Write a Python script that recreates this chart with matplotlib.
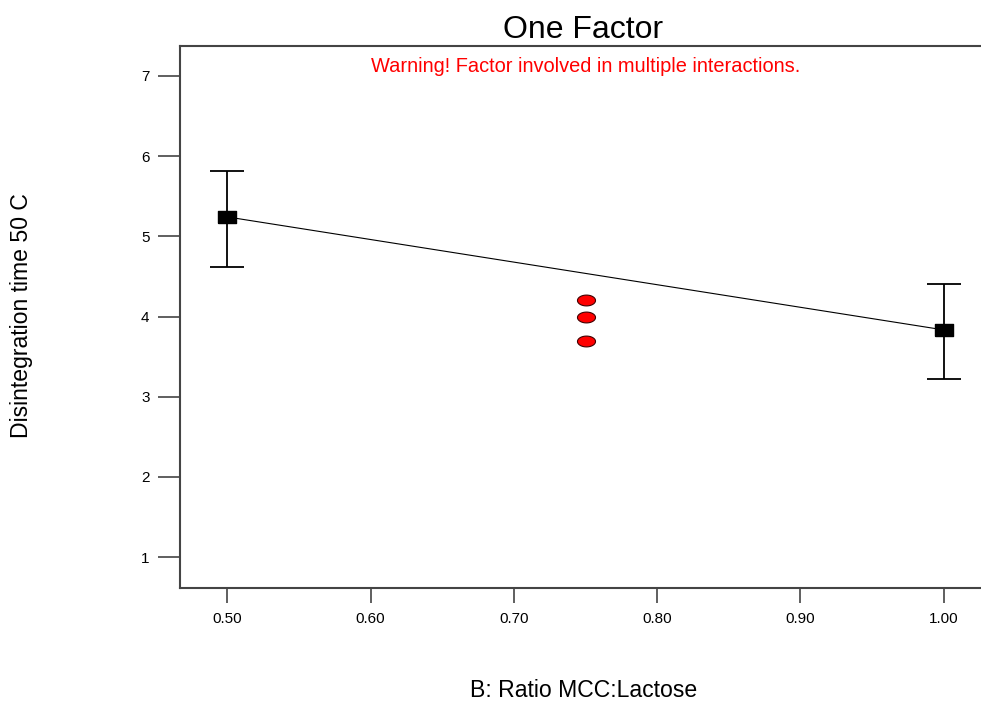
"""One factor effect plot: disintegration time vs MCC:Lactose ratio."""
import numpy as np
import matplotlib
matplotlib.use("Agg")
import matplotlib.pyplot as plt

plt.rcParams['font.family'] = ['Liberation Sans', 'DejaVu Sans']

# factor levels and predicted means with LSD bars
levels = [0.50, 1.00]
predicted = [5.242, 3.833]
bar_upper = [5.815, 4.407]
bar_lower = [4.620, 3.222]

# center point design runs
center_x = [0.75, 0.75, 0.75]
center_y = [4.207, 3.995, 3.700]

x_ticks = [0.50, 0.60, 0.70, 0.80, 0.90, 1.00]
y_ticks = [1, 2, 3, 4, 5, 6, 7]

# wide rectangle and flat ellipse marker shapes
rect_marker = [(-1.5, -1.0), (1.5, -1.0), (1.5, 1.0), (-1.5, 1.0), (-1.5, -1.0)]
t = np.linspace(0, 2 * np.pi, 40)
ellipse_marker = list(zip(np.cos(t), 0.6 * np.sin(t)))

fig = plt.figure(figsize=(9.81, 7.02), dpi=100)
ax = fig.add_axes([0.1835, 0.1624, 0.8165, 0.7721])

ax.plot(levels, predicted, color='black', lw=0.8, zorder=2)
yerr = [np.array(predicted) - np.array(bar_lower), np.array(bar_upper) - np.array(predicted)]
ax.errorbar(levels, predicted, yerr=yerr, fmt='none', ecolor='black',
            elinewidth=1.3, capsize=12, capthick=1.3, zorder=3)
ax.plot(levels, predicted, linestyle='none', marker=rect_marker, markersize=13,
        color='black', zorder=4)
ax.plot(center_x, center_y, linestyle='none', marker=ellipse_marker, markersize=13,
        markerfacecolor='red', markeredgecolor='#400000', markeredgewidth=0.8, zorder=4)

ax.set_xlim(0.467, 1.026)
ax.set_ylim(0.614, 7.374)
ax.set_xticks(x_ticks)
ax.set_xticklabels([f"{v:.2f}" for v in x_ticks])
ax.set_yticks(y_ticks)

for side in ['left', 'top', 'bottom']:
    ax.spines[side].set_color('#444444')
    ax.spines[side].set_linewidth(1.5)
ax.spines['right'].set_visible(False)

ax.tick_params(axis='y', direction='out', length=16, width=1.2, color='#444444',
               labelsize=11, pad=6)
ax.tick_params(axis='x', direction='out', length=11, width=1.2, color='#444444',
               labelsize=11, pad=6)

fig.text(0.5948, 0.957, "One Factor", ha='center', va='center', fontsize=23)
fig.text(0.597, 0.9046, "Warning! Factor involved in multiple interactions.",
         ha='center', va='center', fontsize=14.4, color='red')
fig.text(0.0224, 0.551, "Disintegration time 50 C", ha='center', va='center',
         rotation=90, fontsize=16.6)
fig.text(0.595, 0.017, "B: Ratio MCC:Lactose", ha='center', va='center',
         fontsize=16.6)

fig.savefig("out.png", dpi=100)
